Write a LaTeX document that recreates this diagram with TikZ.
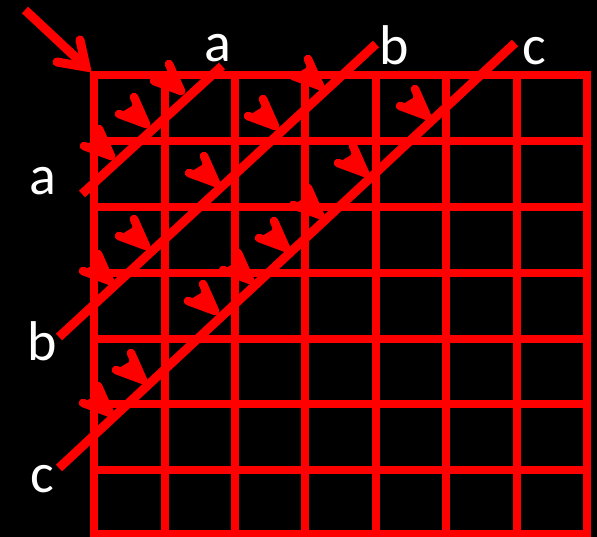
\documentclass[tikz,border=0pt]{standalone}
\usepackage{fontspec}
\setmainfont{Carlito}
\begin{document}
\begin{tikzpicture}[x=1pt,y=-1pt,
  gridline/.style={red, line width=8.5pt, line cap=rect},
  diag/.style={red, line width=9pt},
  lbl/.style={text=white, font=\fontsize{56}{60}\selectfont, inner sep=0pt, anchor=base},
  harrow/.pic={
    \fill[red] (0,0) -- (-12,-27) -- (-14,-18) -- (-19,-15) -- (-27,-10) -- cycle;
    \draw[red, line width=8.5pt, line cap=round, line join=round] (-12,-27) -- (0,0) -- (-27,-10);
  }]
\fill[black] (0,0) rectangle (597,537);
\useasboundingbox (0,0) rectangle (597,537);
% grid
\foreach \x in {94,165,235,305,376,446,517,587}
  \draw[gridline] (\x,75) -- (\x,534);
\foreach \y in {75,141,207,273,339,404,470,534}
  \draw[gridline] (94,\y) -- (587,\y);
% diagonals
\coordinate (aL) at (82,194);  \coordinate (aT) at (222,66);
\coordinate (bL) at (59,337);  \coordinate (bT) at (376,44);
\coordinate (cL) at (59,468);  \coordinate (cT) at (515,43);
\draw[diag] (aL) -- (aT);
\draw[diag] (bL) -- (bT);
\draw[diag] (cL) -- (cT);
% small arrows
\foreach \p in {(181,91),(146,124),(111,156),(275,126),(216,183),(146,246),(286,248),(320,86),(427,116),(365,173),(320,215),(110,281),(250,280),(215,311),(143,380),(110,413)}
  \pic at \p {harrow};
% big arrow
\coordinate (bigS) at (25,10);
\coordinate (bigT) at (86,67);
\draw[red, line width=9pt] (bigS) -- (bigT);
\draw[red, line width=9pt, line cap=round, miter limit=10] (80,40) -- (bigT) -- (57,62);
% labels
\node[lbl] (ta) at (217.5,62) {a};
\node[lbl] (tb) at (394.5,65) {b};
\node[lbl] (tc) at (534.5,65) {c};
\node[lbl] (la) at (42.5,195) {a};
\node[lbl] (lb) at (42.5,360) {b};
\node[lbl] (lc) at (42.5,492) {c};
\end{tikzpicture}
\end{document}
